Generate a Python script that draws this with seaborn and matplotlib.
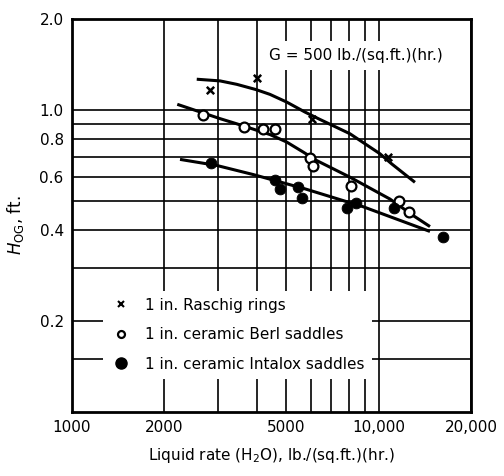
import numpy as np
import pandas as pd
import seaborn as sns
import matplotlib.pyplot as plt
from matplotlib.lines import Line2D

raschig_x = [2825, 4020, 6046, 10700]
raschig_y = [1.168, 1.277, 0.935, 0.696]

berl_x = [2674, 3646, 4205, 4590, 5970, 6093, 8124, 11620, 12530]
berl_y = [0.965, 0.880, 0.864, 0.864, 0.694, 0.651, 0.559, 0.500, 0.459]

intalox_x = [2833, 4600, 4777, 5443, 5636, 7881, 8433, 11240, 16240]
intalox_y = [0.666, 0.588, 0.546, 0.556, 0.512, 0.475, 0.492, 0.472, 0.380]

# hand-drawn correlation curves (traced)
raschig_curve_x = [2551, 3038, 3443, 3981, 4422, 5012, 5751, 6353, 8061, 10098, 11025, 13130]
raschig_curve_y = [1.264, 1.248, 1.216, 1.168, 1.126, 1.062, 0.984, 0.936, 0.834, 0.716, 0.663, 0.576]

berl_curve_x = [2204, 3038, 3443, 4422, 5012, 5679, 6279, 8061, 10884, 12960, 14700]
berl_curve_y = [1.044, 0.936, 0.900, 0.829, 0.783, 0.725, 0.680, 0.599, 0.507, 0.447, 0.411]

intalox_curve_x = [2250, 2964, 3901, 5751, 8909, 14700]
intalox_curve_y = [0.686, 0.655, 0.611, 0.548, 0.478, 0.396]

x_labels = ["1000", "2000", "5000", "10,000", "20,000"]
x_label_pos = [1000, 2000, 5000, 10000, 20000]
x_grid = [3000, 4000, 6000, 7000, 8000, 9000]
y_labels = ["0.2", "0.4", "0.6", "0.8", "1.0", "2.0"]
y_label_pos = [0.2, 0.4, 0.6, 0.8, 1.0, 2.0]
y_grid = [0.15, 0.3, 0.5, 0.7, 0.9]

sns.set_style("white")
plt.rcParams['font.family'] = ['DejaVu Sans']
plt.rcParams['text.color'] = 'black'
plt.rcParams['axes.labelcolor'] = 'black'
plt.rcParams['xtick.color'] = 'black'
plt.rcParams['ytick.color'] = 'black'

fig = plt.figure(figsize=(5.04, 4.76), dpi=100)
ax = fig.add_axes([0.1429, 0.1345, 0.7916, 0.8255])

curves = [(raschig_curve_x, raschig_curve_y), (berl_curve_x, berl_curve_y),
          (intalox_curve_x, intalox_curve_y)]
for cx, cy in curves:
    df = pd.DataFrame({'x': cx, 'y': cy})
    sns.lineplot(data=df, x='x', y='y', ax=ax, color='black', lw=2.2, zorder=3,
                 solid_capstyle='butt', solid_joinstyle='round')

pts = pd.DataFrame({'x': raschig_x, 'y': raschig_y})
sns.scatterplot(data=pts, x='x', y='y', ax=ax, marker='x', s=28, color='black',
                linewidth=1.8, zorder=4)
pts = pd.DataFrame({'x': berl_x, 'y': berl_y})
sns.scatterplot(data=pts, x='x', y='y', ax=ax, marker='o', s=50, facecolor='white',
                edgecolor='black', linewidth=1.6, zorder=4)
pts = pd.DataFrame({'x': intalox_x, 'y': intalox_y})
sns.scatterplot(data=pts, x='x', y='y', ax=ax, marker='o', s=60, color='black',
                edgecolor='black', zorder=4)

ax.set_xscale('log')
ax.set_yscale('log')
ax.set_xlim(1000, 20000)
ax.set_ylim(0.1, 2.0)

ax.set_xticks(x_label_pos)
ax.set_xticklabels(x_labels)
ax.set_xticks(x_grid, minor=True)
ax.set_xticklabels([], minor=True)
ax.set_yticks(y_label_pos)
ax.set_yticklabels(y_labels)
ax.set_yticks(y_grid, minor=True)
ax.set_yticklabels([], minor=True)
ax.tick_params(which='both', length=0, labelsize=11, pad=6)
ax.grid(True, which='both', color='black', lw=1.2, zorder=0)
ax.set_axisbelow(True)
for sp in ax.spines.values():
    sp.set_linewidth(2)
    sp.set_color('black')

ax.set_xlabel(r"Liquid rate (H$_2$O), lb./(sq.ft.)(hr.)", fontsize=11, labelpad=8)
ax.set_ylabel(r"$H_{\rm OG}$, ft.", fontsize=12)
ax.yaxis.set_label_coords(-0.115, 0.475)

ax.text(0.712, 0.908, "G = 500 lb./(sq.ft.)(hr.)", transform=ax.transAxes,
        ha='center', va='center', fontsize=11, zorder=5,
        bbox=dict(facecolor='white', edgecolor='none', pad=5))

handles = [
    Line2D([], [], ls='none', marker='x', color='black', markersize=5, mew=1.5),
    Line2D([], [], ls='none', marker='o', mfc='white', mec='black', markersize=5, mew=1.6),
    Line2D([], [], ls='none', marker='o', color='black', markersize=8),
]
labels = ["1 in. Raschig rings", "1 in. ceramic Berl saddles", "1 in. ceramic Intalox saddles"]
leg = ax.legend(handles, labels, loc='lower left', bbox_to_anchor=(0.078, 0.085),
                frameon=True, fancybox=False, framealpha=1, facecolor='white',
                edgecolor='none', fontsize=11, handlelength=1.4, handletextpad=0.9,
                labelspacing=0.95, borderpad=0.45, borderaxespad=0)
leg.set_zorder(6)

plt.savefig('out.png', dpi=100)
